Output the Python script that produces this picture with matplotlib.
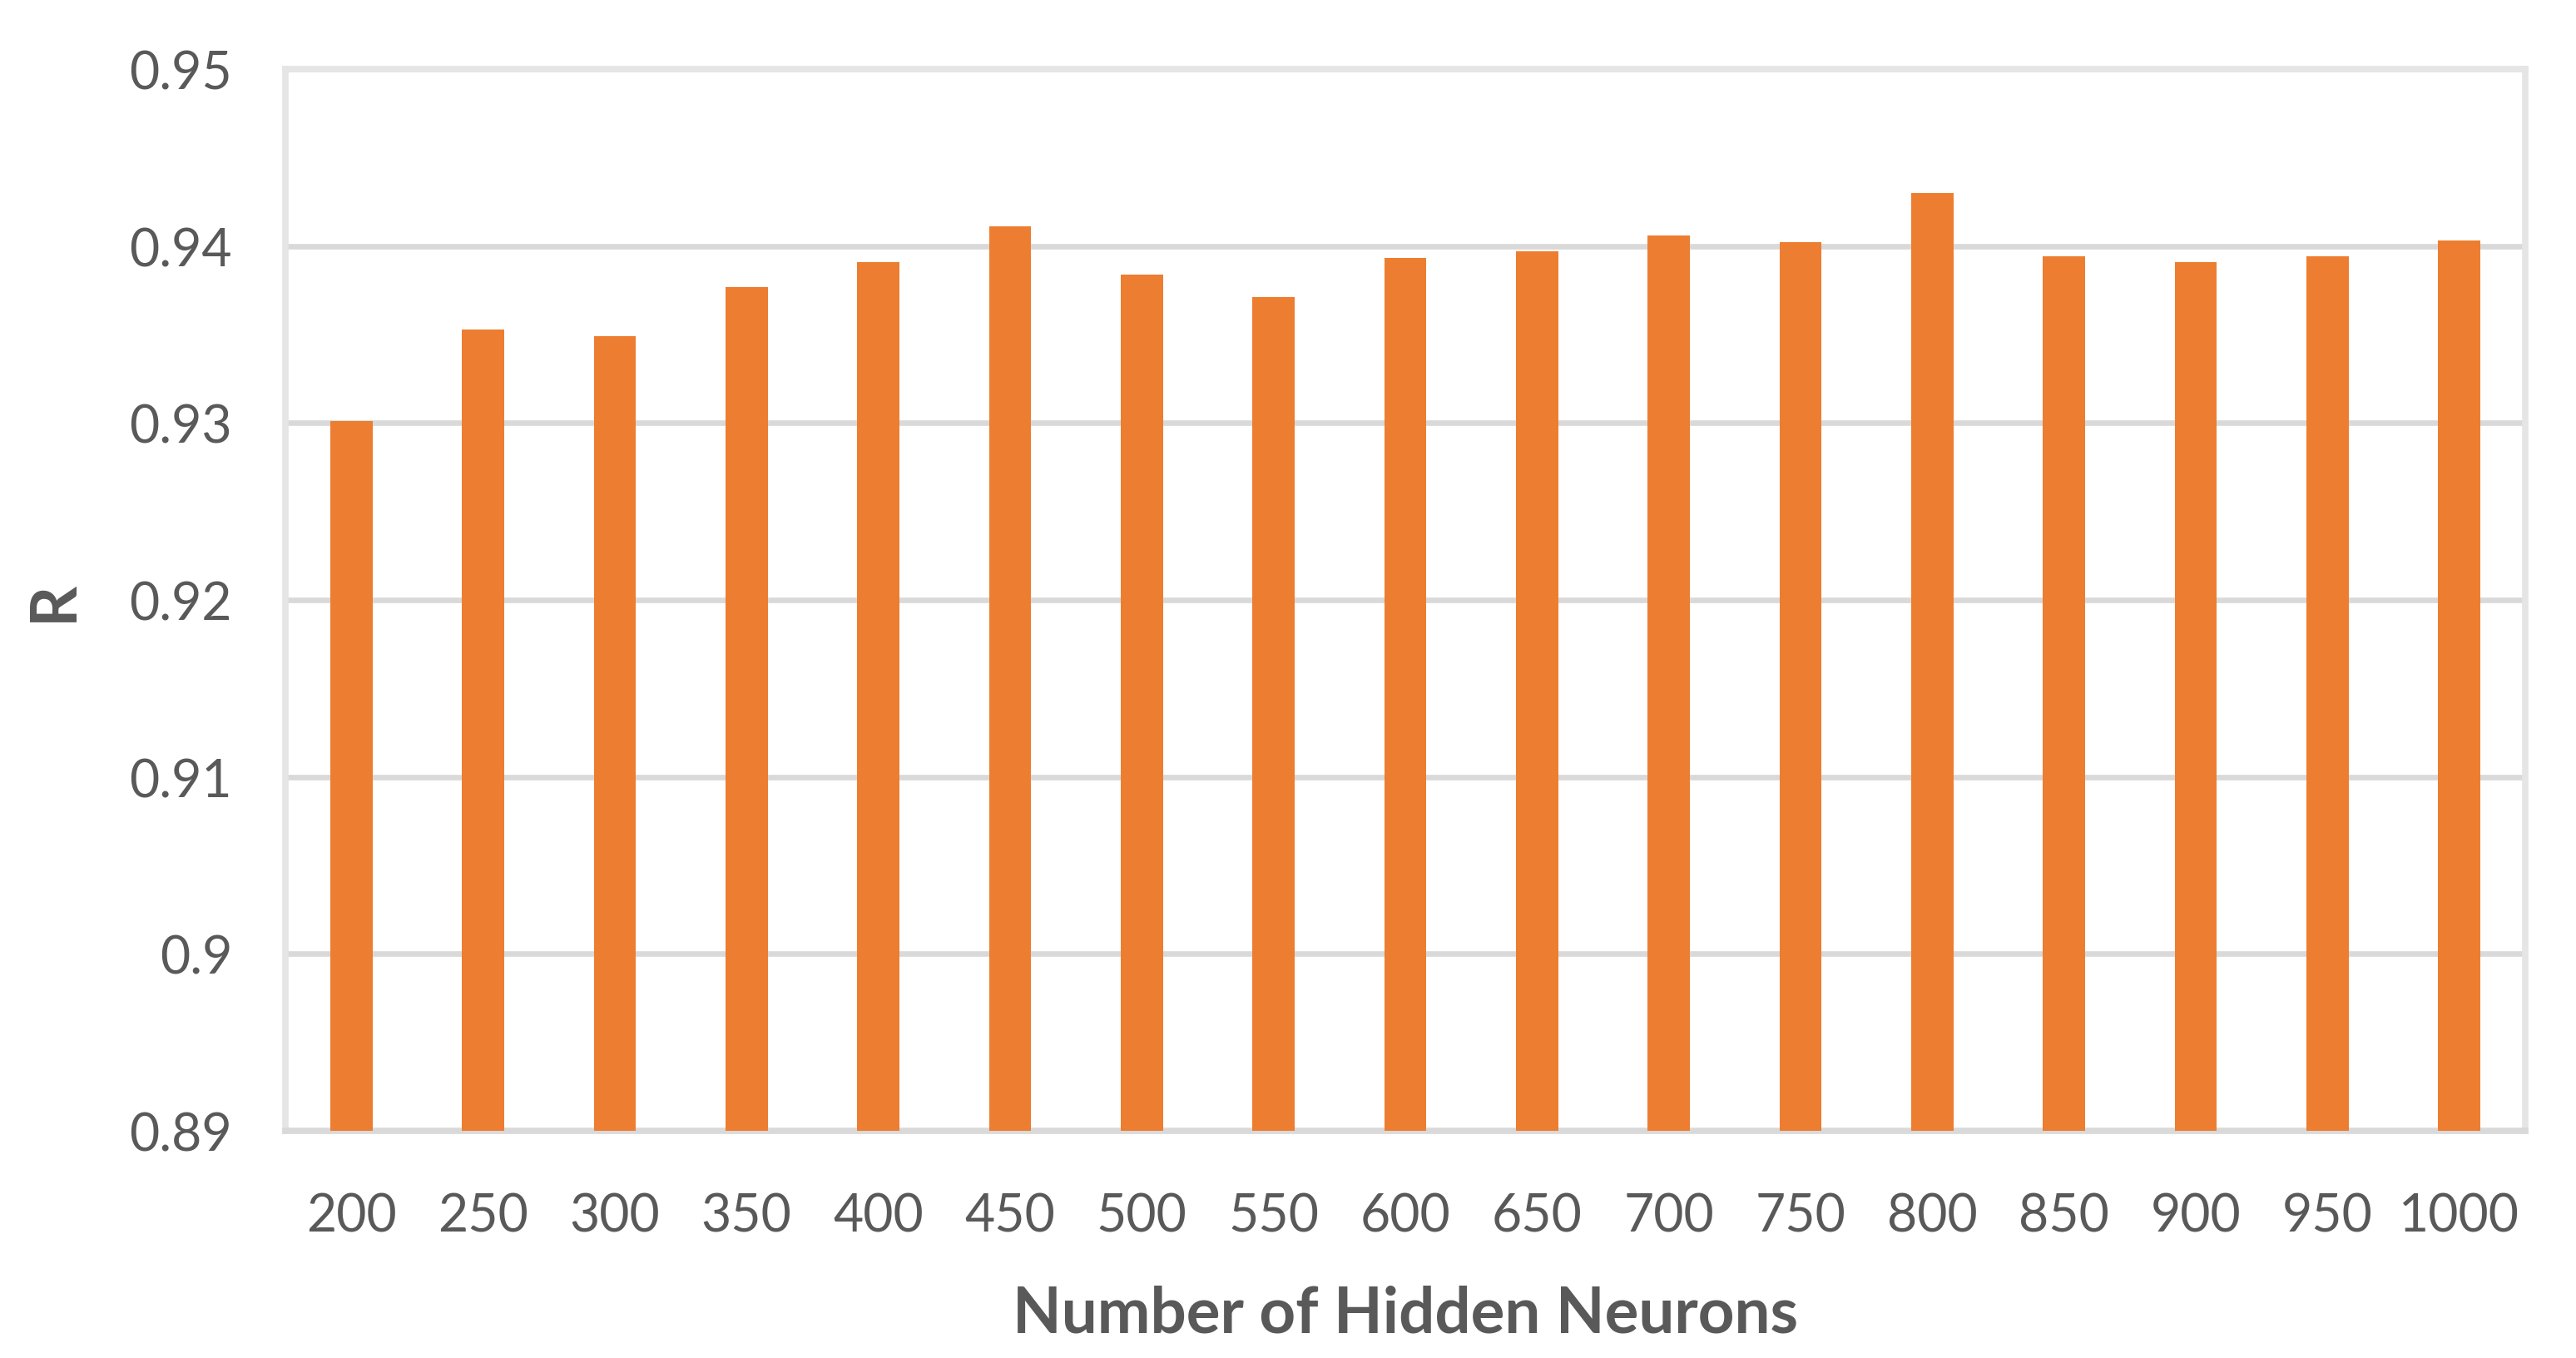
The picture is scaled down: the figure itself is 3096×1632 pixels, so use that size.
import matplotlib
matplotlib.use("Agg")
import matplotlib.pyplot as plt
import numpy as np

# hidden neuron counts and R values
neurons = ["200", "250", "300", "350", "400", "450", "500", "550", "600",
           "650", "700", "750", "800", "850", "900", "950", "1000"]
r_values = [0.9301, 0.9353, 0.9349, 0.9377, 0.9391, 0.9411, 0.9384, 0.9371,
            0.9393, 0.9397, 0.9406, 0.9402, 0.9430, 0.9394, 0.9391, 0.9394, 0.9403]
y_ticks = [0.89, 0.9, 0.91, 0.92, 0.93, 0.94, 0.95]
y_labels = ["0.89", "0.9", "0.91", "0.92", "0.93", "0.94", "0.95"]

text_col = "#595959"
plt.rcParams["font.family"] = ["Lato", "DejaVu Sans"]

fig = plt.figure(figsize=(30.96, 16.33), dpi=100)
ax = fig.add_axes([0.1108, 0.1672, 0.8695, 0.7814])

x = np.arange(len(neurons))
ax.bar(x, np.array(r_values) - 0.89, bottom=0.89, width=0.32, color="#ED7D31", zorder=3)

ax.set_xlim(-0.5, len(neurons) - 0.5)
ax.set_ylim(0.89, 0.95)
ax.set_yticks(y_ticks)
ax.set_yticklabels(y_labels)
ax.set_xticks(x)
ax.set_xticklabels(neurons)

ax.grid(axis="y", color="#D9D9D9", linewidth=4.8, zorder=0)
ax.tick_params(length=0, labelsize=45, labelcolor=text_col)
ax.tick_params(axis="x", pad=53)
ax.tick_params(axis="y", pad=46)

for side in ["top", "left", "right"]:
    ax.spines[side].set_color("#E5E5E5")
    ax.spines[side].set_linewidth(5.5)
ax.spines["bottom"].set_color("#D9D9D9")
ax.spines["bottom"].set_linewidth(5.5)

ax.set_xlabel("Number of Hidden Neurons", fontsize=55, fontweight="bold",
              color=text_col, labelpad=38)
ax.set_ylabel("R", fontsize=55, fontweight="bold", color=text_col, labelpad=40)

fig.savefig("out.png", dpi=100, facecolor="white")
